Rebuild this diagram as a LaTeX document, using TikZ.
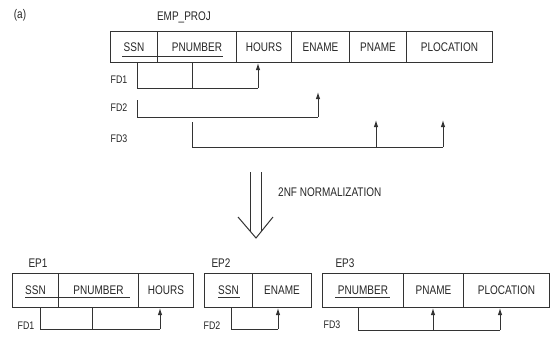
\documentclass[tikz,border=0pt]{standalone}
\usepackage{fontspec}
\setmainfont{Liberation Sans}[FakeStretch=0.8]
\usetikzlibrary{arrows.meta}
\definecolor{linec}{HTML}{333333}
\definecolor{textc}{HTML}{262626}
\begin{document}
\begin{tikzpicture}[x=1pt,y=-1pt,
  cell/.style={draw=linec, line width=1pt, minimum height=31pt, inner sep=0pt, anchor=north west, text=textc, font=\fontsize{12.5}{13}\selectfont},
  bcell/.style={cell, minimum height=34pt},
  lbl/.style={text=textc, inner sep=0pt, font=\fontsize{12.5}{13}\selectfont},
  fdl/.style={text=textc, inner sep=0pt, font=\fontsize{11}{12}\selectfont},
  fd/.style={draw=linec, line width=1pt},
  arr/.style={draw=linec, line width=1pt, -{Latex[length=7pt,width=4.5pt]}},
  ul/.style={draw=linec, line width=1pt}]
\useasboundingbox (0,0) rectangle (555,359);

\node[lbl] (a) at (20,15) {(a)};
\node[lbl] (empproj) at (184,17) {EMP\_PROJ};

% top table
\node[cell, minimum width=47pt] (essn) at (110,31) {SSN};
\node[cell, minimum width=79pt] (epnum) at (157,31) {PNUMBER};
\node[cell, minimum width=55pt] (ehours) at (236,31) {HOURS};
\node[cell, minimum width=58pt] (eename) at (291,31) {ENAME};
\node[cell, minimum width=57pt] (epname) at (349,31) {PNAME};
\node[cell, minimum width=86pt] (eploc) at (406,31) {PLOCATION};
\draw[ul] (122,56) -- (223,56);

% top FDs
\node[fdl] (tfd1) at (119,80) {FD1};
\node[fdl] (tfd2) at (119,108) {FD2};
\node[fdl] (tfd3) at (119,139) {FD3};
\draw[fd] (137,62) -- (137,88) -- (258,88);
\draw[fd] (192,62) -- (192,88);
\draw[arr] (258,88) -- (258,63);
\draw[fd] (137,100) -- (137,117) -- (318,117);
\draw[arr] (318,117) -- (318,92);
\draw[fd] (192,122) -- (192,147) -- (443,147);
\draw[arr] (376,147) -- (376,120);
\draw[arr] (443,147) -- (443,120);

% normalization arrow
\draw[fd] (250,172) -- (250,231);
\draw[fd] (261.7,172) -- (261.7,231);
\draw[fd] (238,217) -- (256,238) -- (273,217);
\node[lbl, anchor=west] (norm) at (278,192) {2NF NORMALIZATION};

% EP1
\node[lbl] (ep1) at (38,263) {EP1};
\node[bcell, minimum width=46pt] (assn) at (12,273) {SSN};
\node[bcell, minimum width=80pt] (apnum) at (58,273) {PNUMBER};
\node[bcell, minimum width=55pt] (ahours) at (138,273) {HOURS};
\draw[ul] (25,297) -- (130,297);
\node[fdl] (bfd1) at (26,326) {FD1};
\draw[fd] (40,307) -- (40,329) -- (160,329);
\draw[fd] (92,307) -- (92,329);
\draw[arr] (160,329) -- (160,308);

% EP2
\node[lbl] (ep2) at (221,263) {EP2};
\node[bcell, minimum width=48pt] (bssn) at (204,273) {SSN};
\node[bcell, minimum width=59pt] (bename) at (252,273) {ENAME};
\draw[ul] (218,297) -- (240,297);
\node[fdl] (bfd2) at (212,326) {FD2};
\draw[fd] (231,307) -- (231,329) -- (278,329);
\draw[arr] (278,329) -- (278,308);

% EP3
\node[lbl] (ep3) at (345,263) {EP3};
\node[bcell, minimum width=81pt] (cpnum) at (322,273) {PNUMBER};
\node[bcell, minimum width=60pt] (cpname) at (403,273) {PNAME};
\node[bcell, minimum width=86pt] (cploc) at (463,273) {PLOCATION};
\draw[ul] (335,297) -- (390,297);
\node[fdl] (bfd3) at (332,325) {FD3};
\draw[fd] (358,307) -- (358,330) -- (500,330);
\draw[arr] (433,330) -- (433,308);
\draw[arr] (500,330) -- (500,308);
\end{tikzpicture}
\end{document}
